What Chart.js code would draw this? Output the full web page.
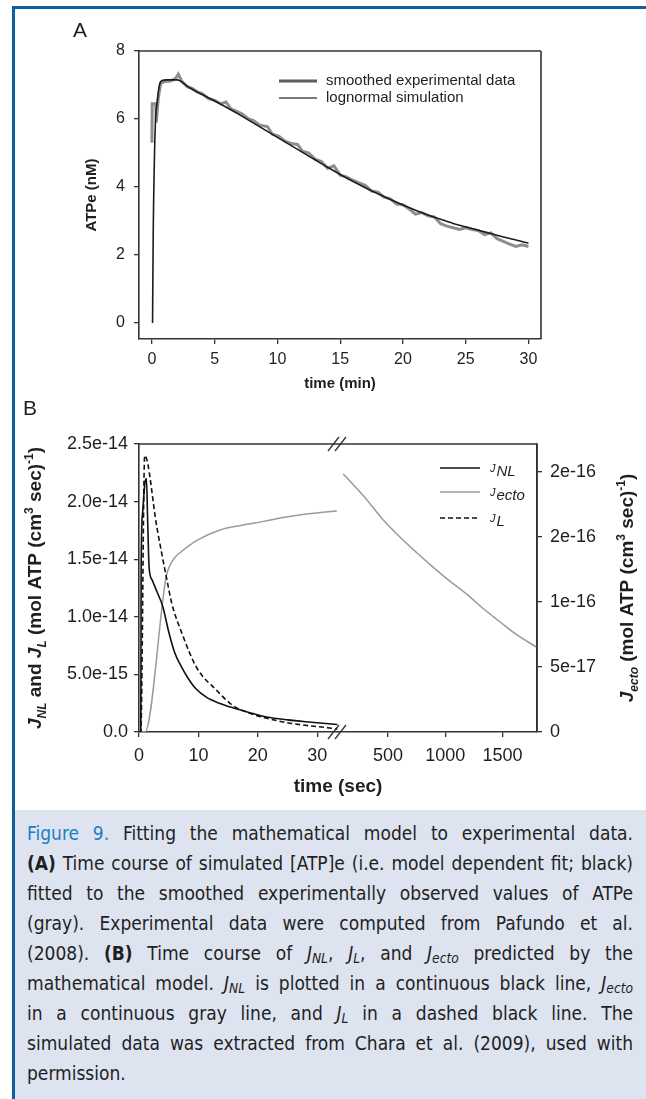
<!DOCTYPE html>
<html>
<head>
<meta charset="utf-8">
<script src="https://cdn.jsdelivr.net/npm/chart.js@4.4.1/dist/chart.umd.min.js"></script>
<style>
  html, body { margin: 0; padding: 0; background: #fff; }
  body { width: 646px; height: 1099px; position: relative; overflow: hidden; }
  #barTop { position: absolute; left: 12px; top: 6px; width: 634px; height: 3px; background: #0e5ea0; }
  #barLeft { position: absolute; left: 12px; top: 6px; width: 3px; height: 1093px; background: #0e5ea0; }
  #chartA { position: absolute; left: 0; top: 0; }
  #chartB { position: absolute; left: 0; top: 400px; }
  #caption {
    position: absolute; left: 15px; top: 810px; width: 606px; height: 281px;
    padding: 8px 13px 0 12px; background: #dde4f0; color: #1f1f1f;
    font: 19px "Liberation Sans Narrow", "DejaVu Sans Condensed", "Open Sans", sans-serif;
    line-height: 30px;
  }
  #caption div { text-align: justify; text-align-last: justify; }
  #caption div.last { text-align-last: left; }
  #caption .fig { color: #1d7fc4; }
  #caption b { font-weight: bold; }
  #caption sub { font-size: 0.72em; vertical-align: -0.25em; line-height: 0; }
</style>
</head>
<body>
<div id="barTop"></div>
<div id="barLeft"></div>
<canvas id="chartA" width="646" height="400"></canvas>
<canvas id="chartB" width="646" height="410"></canvas>
<div id="caption">
  <div><span class="fig">Figure 9.</span> Fitting the mathematical model to experimental data.</div>
  <div><b>(A)</b> Time course of simulated [ATP]e (i.e. model dependent fit; black)</div>
  <div>fitted to the smoothed experimentally observed values of ATPe</div>
  <div>(gray). Experimental data were computed from Pafundo et al.</div>
  <div>(2008). <b>(B)</b> Time course of <i>J<sub>NL</sub></i>, <i>J<sub>L</sub></i>, and <i>J<sub>ecto</sub></i> predicted by the</div>
  <div>mathematical model. <i>J<sub>NL</sub></i> is plotted in a continuous black line, <i>J<sub>ecto</sub></i></div>
  <div>in a continuous gray line, and <i>J<sub>L</sub></i> in a dashed black line. The</div>
  <div>simulated data was extracted from Chara et al. (2009), used with</div>
  <div class="last">permission.</div>
</div>
<script>
// ---- panel A: ATPe vs time (min)
const aTicksX = [0, 5, 10, 15, 20, 25, 30];
const aTicksY = [0, 2, 4, 6, 8];

const expTime = [0, 0.02, 0.3, 0.35, 0.5, 0.7, 1.0, 1.5, 1.9, 2.1, 2.4, 2.8, 3.2, 3.6, 4.0, 4.5, 5.0, 5.5, 5.9,
  6.3, 6.8, 7.2, 7.7, 8.1, 8.6, 9.2, 9.6, 10.1, 10.6, 11.1, 11.6, 12.0, 12.5, 13.0, 13.5, 14.0, 14.5, 15.0,
  15.5, 16, 16.5, 17, 17.5, 18, 18.5, 19, 19.5, 20, 20.5, 21, 21.5, 22, 22.5, 23, 23.5, 24, 24.5, 25, 25.5,
  26, 26.5, 27, 27.5, 28, 28.5, 29, 29.5, 30];
const expATP = [5.3, 6.45, 6.45, 5.9, 6.6, 7.05, 7.1, 7.12, 7.2, 7.32, 7.1, 6.95, 6.9, 6.8, 6.75, 6.6, 6.55, 6.45, 6.5,
  6.3, 6.22, 6.15, 6.0, 5.95, 5.82, 5.78, 5.55, 5.5, 5.35, 5.28, 5.25, 5.05, 5.0, 4.82, 4.75, 4.55, 4.62, 4.35,
  4.3, 4.2, 4.12, 4.05, 3.88, 3.85, 3.7, 3.65, 3.5, 3.48, 3.35, 3.2, 3.25, 3.15, 3.12, 2.92, 2.85, 2.8, 2.75, 2.8, 2.75,
  2.72, 2.6, 2.65, 2.48, 2.4, 2.32, 2.25, 2.3, 2.25];

const simTime = [0.05, 0.1, 0.25, 0.45, 0.6, 0.8, 1.2, 2, 3, 4, 5, 6, 7, 8, 9, 10, 11, 12, 13, 14, 15,
  16, 17, 18, 19, 20, 21, 22, 23, 24, 25, 26, 27, 28, 29, 30];
const simATP = [0, 2.5, 5.6, 6.6, 7.0, 7.13, 7.15, 7.15, 6.92, 6.72, 6.53, 6.33, 6.12, 5.9, 5.68, 5.46, 5.24, 5.02, 4.8, 4.58, 4.37,
  4.17, 3.98, 3.8, 3.63, 3.47, 3.32, 3.18, 3.05, 2.93, 2.83, 2.73, 2.63, 2.53, 2.44, 2.35];

// ---- panel B: fluxes vs time (sec), broken x axis
const bTicksLeft = [0, 5e-15, 1e-14, 1.5e-14, 2e-14, 2.5e-14];
const bLabelsLeft = ['0.0', '5.0e-15', '1.0e-14', '1.5e-14', '2.0e-14', '2.5e-14'];
const bTicksRight = [0, 5e-17, 1e-16, 1.5e-16, 2e-16];
const bLabelsRight = ['0', '5e-17', '1e-16', '2e-16', '2e-16'];
const bTicksShort = [0, 10, 20, 30];
const bTicksLong = [500, 1000, 1500];

const nlTime = [0, 0.3, 0.36, 0.6, 1.05, 1.25, 1.45, 1.7, 2.2, 3.0, 4.0, 5.0, 6.0, 7.0, 8.1, 9.5, 11.4, 13.5,
  15.8, 18.5, 21.5, 25, 29, 33.4];
const nlFlux = [0, 0, 1.4e-14, 1.9e-14, 2.18e-14, 2.2e-14, 1.85e-14, 1.43e-14, 1.32e-14, 1.22e-14, 1.09e-14, 8.7e-15,
  6.9e-15, 5.8e-15, 4.8e-15, 3.8e-15, 3.0e-15, 2.5e-15, 2.1e-15, 1.7e-15, 1.3e-15, 1.05e-15, 0.85e-15, 0.65e-15];

const lTime = [0, 0.3, 0.96, 3.0, 4.7, 5.5, 7.2, 9.7, 13.1, 15.8, 18.5, 21.5, 25, 28.5, 32.1, 33.4];
const lFlux = [0, 0, 2.4e-14, 1.78e-14, 1.32e-14, 1.12e-14, 8.6e-15, 5.6e-15, 3.6e-15, 2.3e-15, 1.65e-15, 1.2e-15,
  0.8e-15, 0.55e-15, 0.35e-15, 0.25e-15];

const ectoTimeShort = [0, 1.0, 4.6, 5.2, 6.0, 7.2, 8.6, 10, 13.4, 17.3, 21, 25, 29, 33.3];
const ectoFluxShort = [0, 0, 1.2e-16, 1.28e-16, 1.34e-16, 1.39e-16, 1.44e-16, 1.48e-16, 1.55e-16, 1.59e-16,
  1.62e-16, 1.655e-16, 1.68e-16, 1.70e-16];
const ectoTimeLong = [110, 200, 317, 450, 604, 750, 891, 1040, 1187, 1330, 1474, 1620, 1800];
const ectoFluxLong = [1.985e-16, 1.9e-16, 1.785e-16, 1.64e-16, 1.5e-16, 1.38e-16, 1.27e-16, 1.16e-16, 1.06e-16,
  0.95e-16, 0.85e-16, 0.75e-16, 0.65e-16];

const FONT = 'Arial, "Liberation Sans", sans-serif';
const INK = '#1f1f1f';
const AXIS = '#333';

const pts = (xs, ys) => xs.map((x, i) => ({ x, y: ys[i] }));

function fixed(values, labels) {
  return {
    afterBuildTicks: (s) => { s.ticks = values.map((v) => ({ value: v })); },
    callback: (v, i) => (labels ? labels[i] : String(v)),
  };
}

function axis(opts) {
  const { values, labels, min, max, size, fontSize, padding, position, extra } = opts;
  const t = fixed(values, labels);
  return Object.assign({
    type: 'linear',
    position,
    min, max,
    afterBuildTicks: t.afterBuildTicks,
    afterFit: (s) => { if (s.isHorizontal()) s.height = size; else s.width = size; },
    grid: { display: true, drawOnChartArea: false, drawTicks: true, tickLength: 5, color: AXIS, lineWidth: 1.3 },
    border: { display: true, color: AXIS, width: 1.6 },
    ticks: { autoSkip: false, maxRotation: 0, padding, color: INK, font: { family: FONT, size: fontSize }, callback: t.callback },
  }, extra || {});
}

// draw text made of runs (sub/superscripts), centred on x
function rich(ctx, parts, x, y, rotate) {
  ctx.save();
  ctx.translate(x, y);
  if (rotate) ctx.rotate(-Math.PI / 2);
  let w = 0;
  for (const p of parts) { ctx.font = p.f; w += ctx.measureText(p.t).width; }
  let cx = -w / 2;
  ctx.textAlign = 'left';
  ctx.textBaseline = 'alphabetic';
  ctx.fillStyle = INK;
  for (const p of parts) {
    ctx.font = p.f;
    ctx.fillText(p.t, cx, p.dy || 0);
    cx += ctx.measureText(p.t).width;
  }
  ctx.restore();
}

function line(ctx, x1, y1, x2, y2, color, width, dash) {
  ctx.save();
  ctx.strokeStyle = color;
  ctx.lineWidth = width;
  ctx.setLineDash(dash || []);
  ctx.beginPath();
  ctx.moveTo(x1, y1);
  ctx.lineTo(x2, y2);
  ctx.stroke();
  ctx.restore();
}

function frame(ctx, a) {
  line(ctx, a.left, a.top, a.right, a.top, AXIS, 1.6);
  line(ctx, a.right, a.top, a.right, a.bottom, AXIS, 1.6);
}

// ---------- chart A
const decorA = {
  id: 'decorA',
  afterDraw(chart) {
    const { ctx, chartArea: a } = chart;
    frame(ctx, a);
    ctx.save();
    ctx.fillStyle = INK;
    ctx.font = '21px ' + FONT;
    ctx.textBaseline = 'middle';
    ctx.fillText('A', 73, 31);
    ctx.restore();
    const B15 = 'bold 15px ' + FONT;
    rich(ctx, [{ t: 'ATPe (nM)', f: B15 }], 96, (a.top + a.bottom) / 2, true);
    rich(ctx, [{ t: 'time (min)', f: B15 }], (a.left + a.right) / 2, a.bottom + 49);
    // legend
    const lx = a.left + 140;
    const rows = [
      { y: a.top + 30, c: '#5e5e5e', w: 3, t: 'smoothed experimental data' },
      { y: a.top + 47, c: '#7a7a7a', w: 2, t: 'lognormal simulation' },
    ];
    ctx.save();
    ctx.font = '15px ' + FONT;
    ctx.fillStyle = INK;
    ctx.textBaseline = 'middle';
    for (const r of rows) {
      line(ctx, lx, r.y, lx + 38, r.y, r.c, r.w);
      ctx.fillText(r.t, lx + 47, r.y);
    }
    ctx.restore();
  },
};

new Chart(document.getElementById('chartA'), {
  type: 'line',
  data: {
    datasets: [
      { label: 'lognormal simulation', data: pts(simTime, simATP), borderColor: '#1c1c1c', borderWidth: 1.6,
        pointRadius: 0, cubicInterpolationMode: 'monotone', order: 0 },
      { label: 'smoothed experimental data', data: pts(expTime, expATP), borderColor: '#8e8e8e', borderWidth: 3,
        pointRadius: 0, tension: 0, order: 1 },
    ],
  },
  options: {
    responsive: false,
    animation: false,
    events: [],
    layout: { padding: { left: 0, top: 51, right: 105, bottom: 0 } },
    plugins: { legend: { display: false }, tooltip: { enabled: false } },
    scales: {
      x: axis({ values: aTicksX, min: -1.03, max: 31, size: 61, fontSize: 16, padding: 6, position: 'bottom' }),
      y: axis({ values: aTicksY, min: -0.47, max: 8, size: 139, fontSize: 16, padding: 9, position: 'left' }),
    },
  },
  plugins: [decorA],
});

// ---------- chart B
const decorB = {
  id: 'decorB',
  afterDraw(chart) {
    const { ctx, chartArea: a, scales } = chart;
    frame(ctx, a);
    ctx.save();
    ctx.fillStyle = INK;
    ctx.font = '21px ' + FONT;
    ctx.textBaseline = 'middle';
    ctx.fillText('B', 23, 9);
    ctx.restore();

    const B19 = 'bold 19px ' + FONT;
    const I19 = 'italic bold 19px ' + FONT;
    const S12 = 'bold 12px ' + FONT;
    const IS12 = 'italic bold 12px ' + FONT;
    const mid = (a.top + a.bottom) / 2;
    rich(ctx, [
      { t: 'J', f: I19 }, { t: 'NL', f: IS12, dy: 5 }, { t: ' and ', f: B19 }, { t: 'J', f: I19 }, { t: 'L', f: IS12, dy: 5 },
      { t: ' (mol ATP (cm', f: B19 }, { t: '3', f: S12, dy: -8 }, { t: ' sec)', f: B19 }, { t: '-1', f: S12, dy: -8 }, { t: ')', f: B19 },
    ], 41, mid, true);
    rich(ctx, [
      { t: 'J', f: I19 }, { t: 'ecto', f: IS12, dy: 5 },
      { t: ' (mol ATP (cm', f: B19 }, { t: '3', f: S12, dy: -8 }, { t: ' sec)', f: B19 }, { t: '-1', f: S12, dy: -8 }, { t: ')', f: B19 },
    ], 633, mid, true);
    rich(ctx, [{ t: 'time (sec)', f: B19 }], (a.left + a.right) / 2, a.bottom + 60);

    // axis break marks
    const bx = scales.xShort.right;
    for (const y of [a.top, a.bottom]) {
      line(ctx, bx - 10, y + 7, bx + 1, y - 7, '#333', 1.3);
      line(ctx, bx - 3, y + 7, bx + 8, y - 7, '#333', 1.3);
    }

    // legend
    const lx = a.right - 97;
    const rows = [
      { y: a.top + 24, c: '#111', d: [], s: 'NL' },
      { y: a.top + 48, c: '#9a9a9a', d: [], s: 'ecto' },
      { y: a.top + 74, c: '#111', d: [5, 3], s: 'L' },
    ];
    ctx.save();
    ctx.fillStyle = INK;
    ctx.textBaseline = 'alphabetic';
    for (const r of rows) {
      line(ctx, lx, r.y, lx + 40, r.y, r.c, 1.5, r.d);
      ctx.font = 'italic 11px ' + FONT;
      ctx.fillText('J', lx + 50, r.y + 4);
      const jw = ctx.measureText('J').width;
      ctx.font = 'italic 15px ' + FONT;
      ctx.fillText(r.s, lx + 51 + jw, r.y + 8);
    }
    ctx.restore();
  },
};

new Chart(document.getElementById('chartB'), {
  type: 'line',
  data: {
    datasets: [
      { label: 'J_NL', data: pts(nlTime, nlFlux), xAxisID: 'xShort', yAxisID: 'y', borderColor: '#111', borderWidth: 1.6,
        pointRadius: 0, cubicInterpolationMode: 'monotone', order: 0 },
      { label: 'J_L', data: pts(lTime, lFlux), xAxisID: 'xShort', yAxisID: 'y', borderColor: '#111', borderWidth: 1.6,
        borderDash: [5, 3], pointRadius: 0, cubicInterpolationMode: 'monotone', order: 1 },
      { label: 'J_ecto', data: pts(ectoTimeShort, ectoFluxShort), xAxisID: 'xShort', yAxisID: 'yEcto', borderColor: '#9a9a9a',
        borderWidth: 1.5, pointRadius: 0, cubicInterpolationMode: 'monotone', order: 2 },
      { label: 'J_ecto (long)', data: pts(ectoTimeLong, ectoFluxLong), xAxisID: 'xLong', yAxisID: 'yEcto', borderColor: '#9a9a9a',
        borderWidth: 1.5, pointRadius: 0, cubicInterpolationMode: 'monotone', order: 2 },
    ],
  },
  options: {
    responsive: false,
    animation: false,
    events: [],
    layout: { padding: { left: 0, top: 44, right: 0, bottom: 0 } },
    plugins: { legend: { display: false }, tooltip: { enabled: false } },
    scales: {
      xShort: axis({ values: bTicksShort, min: 0, max: 33.5, size: 78, fontSize: 18, padding: 8, position: 'bottom',
        extra: { axis: 'x', stack: 'time', stackWeight: 1 } }),
      xLong: axis({ values: bTicksLong, min: 65, max: 1800, size: 78, fontSize: 18, padding: 8, position: 'bottom',
        extra: { axis: 'x', stack: 'time', stackWeight: 1 } }),
      y: axis({ values: bTicksLeft, labels: bLabelsLeft, min: 0, max: 2.5e-14, size: 139, fontSize: 18, padding: 6, position: 'left' }),
      yEcto: axis({ values: bTicksRight, labels: bLabelsRight, min: 0, max: 2.215e-16, size: 109, fontSize: 18, padding: 8,
        position: 'right', extra: { axis: 'y' } }),
    },
  },
  plugins: [decorB],
});
</script>
</body>
</html>
